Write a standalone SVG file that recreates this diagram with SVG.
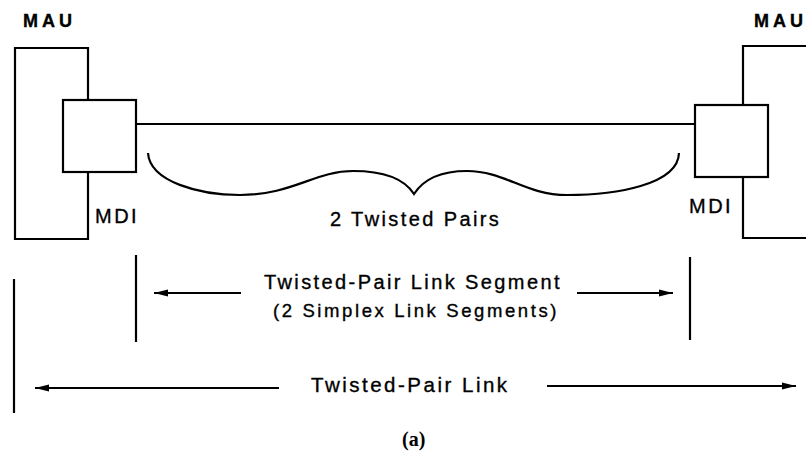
<svg xmlns="http://www.w3.org/2000/svg" width="806" height="461" viewBox="0 0 806 461">
<defs>
<style>
.ln{fill:none;stroke:#000;stroke-width:2.2}
.t{font-family:"Liberation Sans",Arial,sans-serif;fill:#000;stroke:#000;stroke-width:0.35}
</style>
<marker id="ah" markerWidth="15" markerHeight="8" refX="14" refY="4" orient="auto" markerUnits="userSpaceOnUse">
<path d="M0,0.6 L14,4 L0,7.4 Z" fill="#000"/>
</marker>
</defs>
<rect width="806" height="461" fill="#fff"/>
<g id="mau-left">
<path class="ln" d="M88,100 V48 H15 V239 H88 V172"/>
<text class="t" x="23" y="27" font-size="18" font-weight="bold" letter-spacing="4">MAU</text>
</g>
<g id="mdi-left">
<rect class="ln" x="63" y="100" width="73" height="72"/>
<text class="t" x="95" y="223" font-size="20" letter-spacing="2.5">MDI</text>
</g>
<g id="mau-right">
<path class="ln" d="M808,46 H743 V105 M743,177 V238 H808"/>
<text class="t" x="754" y="27" font-size="18" font-weight="bold" letter-spacing="4">MAU</text>
</g>
<g id="mdi-right">
<rect class="ln" x="695" y="105" width="73" height="72"/>
<text class="t" x="689" y="213" font-size="20" letter-spacing="2.5">MDI</text>
</g>
<g id="connectors">
<line class="ln" x1="136" y1="124" x2="695" y2="124"/>
<path class="ln" stroke-width="2.5" d="M148,153 C150,182 200,195 240,195 C292,195 315,171 353,171 C385,171 405,180 414,194 C423,180 440,171 467,171 C505,171 525,195 567,195 C615,195 678,185 679,153"/>
<line class="ln" stroke-width="2.6" x1="136" y1="255" x2="136" y2="342"/>
<line class="ln" stroke-width="2.6" x1="690" y1="257" x2="690" y2="340"/>
<line class="ln" stroke-width="2.6" x1="14" y1="279" x2="14" y2="413"/>
<line class="ln" x1="241" y1="293" x2="154" y2="293" marker-end="url(#ah)"/>
<line class="ln" x1="577" y1="293" x2="673" y2="293" marker-end="url(#ah)"/>
<line class="ln" x1="279" y1="388" x2="35" y2="388" marker-end="url(#ah)"/>
<line class="ln" x1="547" y1="386" x2="796" y2="386" marker-end="url(#ah)"/>
</g>
<text class="t" x="330" y="226" font-size="20" letter-spacing="2.4">2 Twisted Pairs</text>
<text class="t" x="264" y="289" font-size="20" letter-spacing="2.4">Twisted-Pair Link Segment</text>
<text class="t" x="273" y="317" font-size="18.5" letter-spacing="2.6">(2 Simplex Link Segments)</text>
<text class="t" x="311" y="392" font-size="20.5" letter-spacing="2.5">Twisted-Pair Link</text>
<text x="402" y="446" font-family="Liberation Serif,serif" font-size="20" font-weight="bold">(a)</text>
</svg>
